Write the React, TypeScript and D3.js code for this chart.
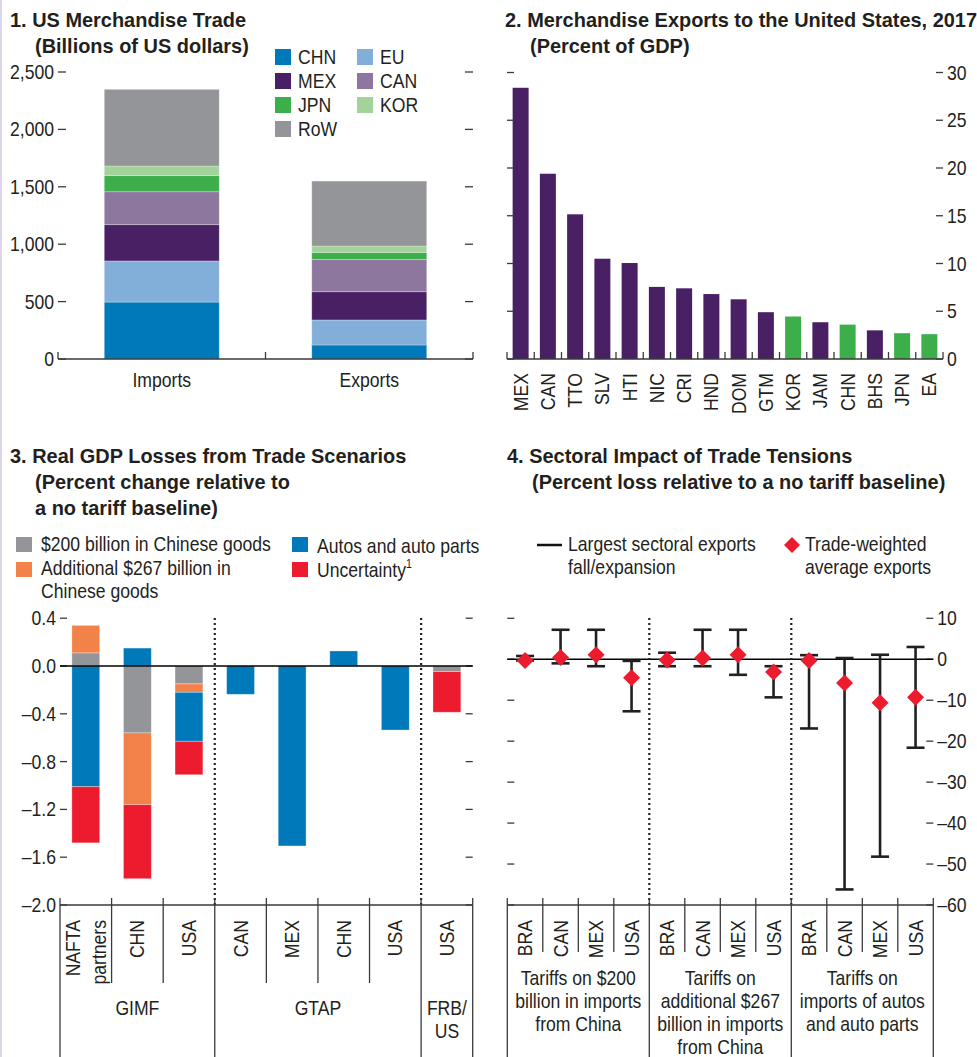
import React from "react";
import * as d3 from "d3";

const FONT = "'Liberation Sans', Arial, sans-serif";
const INK = "#231f20";
const AX = "#3a3a3a";

// ---------- Panel 1 data ----------
const p1Bars = ["Imports", "Exports"];
const p1Regions = ["CHN", "EU", "MEX", "CAN", "JPN", "KOR", "RoW"];
const p1Imports = [496, 358, 316, 287, 140, 84, 668];
const p1Exports = [122, 218, 246, 282, 61, 55, 566];
const p1Colors = ["#0079ba", "#82afd9", "#482063", "#8e779e", "#3cae4a", "#a3d39b", "#939598"];
const p1Ticks = [0, 500, 1000, 1500, 2000, 2500];

// ---------- Panel 2 data ----------
const p2Countries = ["MEX", "CAN", "TTO", "SLV", "HTI", "NIC", "CRI", "HND", "DOM", "GTM", "KOR", "JAM", "CHN", "BHS", "JPN", "EA"];
const p2Values = [28.4, 19.4, 15.15, 10.5, 10.05, 7.55, 7.4, 6.8, 6.25, 4.9, 4.45, 3.85, 3.6, 3.0, 2.7, 2.6];
const p2Green = ["KOR", "CHN", "JPN", "EA"];
const p2Ticks = [0, 5, 10, 15, 20, 25, 30];

// ---------- Panel 3 data ----------
const p3Ids = ["gimf-nafta", "gimf-chn", "gimf-usa", "gtap-can", "gtap-mex", "gtap-chn", "gtap-usa", "frb-usa"];
const p3Labels = [["NAFTA", "partners"], ["CHN"], ["USA"], ["CAN"], ["MEX"], ["CHN"], ["USA"], ["USA"]];
const p3Groups = [["GIMF"], ["GTAP"], ["FRB/", "US"]];
const p3GroupSizes = [3, 4, 1];
const p3Series = ["s200", "s267", "autos", "unc"];
const p3Colors = ["#939598", "#f3814a", "#0079ba", "#ec1c2e"];
const p3S200 = [0.11, -0.56, -0.15, 0, 0, 0, 0, -0.047];
const p3S267 = [0.23, -0.6, -0.07, 0, 0, 0, 0, 0];
const p3Autos = [-1.01, 0.15, -0.41, -0.237, -1.506, 0.126, -0.536, 0];
const p3Unc = [-0.47, -0.62, -0.28, 0, 0, 0, 0, -0.34];
const p3Ticks = [0.4, 0, -0.4, -0.8, -1.2, -1.6, -2.0];

// ---------- Panel 4 data ----------
const p4Ids = ["a-BRA", "a-CAN", "a-MEX", "a-USA", "b-BRA", "b-CAN", "b-MEX", "b-USA", "c-BRA", "c-CAN", "c-MEX", "c-USA"];
const p4Labels = ["BRA", "CAN", "MEX", "USA", "BRA", "CAN", "MEX", "USA", "BRA", "CAN", "MEX", "USA"];
const p4High = [0.8, 7.2, 7.2, -0.4, 1.6, 7.2, 7.2, -1.7, 1.0, 0.3, 1.1, 3.0];
const p4Low = [-0.3, -1.0, -1.7, -12.7, -1.7, -1.7, -3.8, -9.3, -16.9, -56.2, -48.2, -21.6];
const p4Avg = [-0.3, 0.4, 1.1, -4.5, -0.2, 0.3, 1.1, -3.1, -0.3, -5.8, -10.6, -9.3];
const p4Groups = [
  ["Tariffs on $200", "billion in imports", "from China"],
  ["Tariffs on", "additional $267", "billion in imports", "from China"],
  ["Tariffs on", "imports of autos", "and auto parts"],
];
const p4Ticks = [10, 0, -10, -20, -30, -40, -50, -60];

const fmtNeg = (v: number, digits: number) => (v < 0 ? "\u2013" : "") + Math.abs(v).toFixed(digits);

// condensed text: regular sans squeezed horizontally
function T({ x = 0, y = 0, rot = 0, sx = 0.88, size = 20, bold = false, children, ...rest }: any) {
  return (
    <text transform={`translate(${x},${y})${rot ? ` rotate(${rot})` : ""} scale(${sx},1)`}
      fontFamily={FONT} fontSize={size} fontWeight={bold ? "bold" : "normal"} fill={INK} {...rest}>
      {children}
    </text>
  );
}
const TB = (props: any) => <T size={21} sx={0.95} bold {...props} />;

function Panel1() {
  const x = d3.scaleBand().domain(p1Bars).range([58, 473]);
  const y = d3.scaleLinear().domain([0, 2500]).range([359, 72]);
  const rows = p1Bars.map((b, i) => {
    const vals = i === 0 ? p1Imports : p1Exports;
    const o: any = { bar: b };
    p1Regions.forEach((r, j) => (o[r] = vals[j]));
    return o;
  });
  const series = d3.stack().keys(p1Regions)(rows);
  const bw = x.bandwidth() * 0.554;
  const [x0, x1] = x.range();
  return (
    <g>
      <TB x={10} y={27}>1. US Merchandise Trade</TB>
      <TB x={35} y={53}>(Billions of US dollars)</TB>
      {series.map((s, si) =>
        s.map((d: any, di) => (
          <rect key={si + "-" + di} x={x(p1Bars[di])! + (x.bandwidth() - bw) / 2} width={bw}
            y={y(d[1])} height={y(d[0]) - y(d[1])} fill={p1Colors[si]} stroke="#ffffff" strokeOpacity={0.35} strokeWidth={0.8} />
        ))
      )}
      {p1Ticks.map((t) => (
        <g key={t}>
          <line x1={x0} x2={x0 + 8} y1={y(t)} y2={y(t)} stroke={AX} strokeWidth={1.3} />
          <line x1={x1 - 8} x2={x1} y1={y(t)} y2={y(t)} stroke={AX} strokeWidth={1.3} />
          <T x={x0 - 4} y={y(t)} dy="0.35em" textAnchor="end">{d3.format(",")(t)}</T>
        </g>
      ))}
      <line x1={x0} x2={x1} y1={y(0)} y2={y(0)} stroke={AX} strokeWidth={1.4} />
      {[x0, x0 + x.step(), x1].map((bx, i) => (
        <line key={i} x1={bx} x2={bx} y1={y(0) - 7} y2={y(0)} stroke={AX} strokeWidth={1.3} />
      ))}
      {p1Bars.map((b) => (
        <T key={b} x={x(b)! + x.bandwidth() / 2} y={387} textAnchor="middle">{b}</T>
      ))}
      {p1Regions.map((r, i) => {
        const lx = 275 + (i % 2) * 82;
        const ly = 57 + Math.floor(i / 2) * 24;
        return (
          <g key={r}>
            <rect x={lx} y={ly - 8} width={16} height={16} fill={p1Colors[i]} />
            <T x={lx + 23} y={ly} dy="0.35em">{r}</T>
          </g>
        );
      })}
    </g>
  );
}

function Panel2() {
  const x = d3.scaleBand().domain(p2Countries).range([507, 943]);
  const y = d3.scaleLinear().domain([0, 30]).range([359, 72.5]);
  const bw = x.bandwidth() * 0.587;
  const [x0, x1] = x.range();
  return (
    <g>
      <TB x={505} y={27}>2. Merchandise Exports to the United States, 2017</TB>
      <TB x={530} y={53}>(Percent of GDP)</TB>
      {p2Countries.map((c, i) => (
        <rect key={c} x={x(c)! + (x.bandwidth() - bw) / 2} width={bw} y={y(p2Values[i])} height={y(0) - y(p2Values[i])}
          fill={p2Green.includes(c) ? "#3cae4a" : "#482063"} />
      ))}
      {p2Ticks.map((t) => (
        <g key={t}>
          <line x1={x0} x2={x0 + 7} y1={y(t)} y2={y(t)} stroke={AX} strokeWidth={1.3} />
          <line x1={x1 - 7} x2={x1} y1={y(t)} y2={y(t)} stroke={AX} strokeWidth={1.3} />
          <T x={x1 + 4} y={y(t)} dy="0.35em">{t}</T>
        </g>
      ))}
      <line x1={x0} x2={x1} y1={y(0)} y2={y(0)} stroke={AX} strokeWidth={1.4} />
      {d3.range(p2Countries.length + 1).map((i) => (
        <line key={i} x1={x0 + i * x.step()} x2={x0 + i * x.step()} y1={y(0) - 7} y2={y(0)} stroke={AX} strokeWidth={1.3} />
      ))}
      {p2Countries.map((c) => (
        <T key={c} x={x(c)! + x.bandwidth() / 2} y={373} rot={-90} textAnchor="end" dy="0.35em">{c}</T>
      ))}
    </g>
  );
}

function Panel3() {
  const x = d3.scaleBand().domain(p3Ids).range([60, 472.7]);
  const y = d3.scaleLinear().domain([-2, 0.4]).range([905, 618.2]);
  const rows = p3Ids.map((id, i) => ({ id, s200: p3S200[i], s267: p3S267[i], autos: p3Autos[i], unc: p3Unc[i] }));
  const series = d3.stack<any>().keys(p3Series).offset(d3.stackOffsetDiverging)(rows);
  const bw = x.bandwidth() * 0.54;
  const [x0, x1] = x.range();
  const step = x.step();
  let acc = 0;
  const groupBounds = p3GroupSizes.map((n) => {
    const a = acc;
    acc += n;
    return [a, acc];
  });
  const majors = [0, 3, 7, 8];
  return (
    <g>
      <TB x={10} y={463}>3. Real GDP Losses from Trade Scenarios</TB>
      <TB x={35} y={489}>(Percent change relative to</TB>
      <TB x={35} y={515}>a no tariff baseline)</TB>
      <rect x={16} y={537} width={16} height={15} fill={p3Colors[0]} />
      <T x={41} y={551}>$200 billion in Chinese goods</T>
      <rect x={16} y={562} width={16} height={15} fill={p3Colors[1]} />
      <T x={41} y={575}>Additional $267 billion in</T>
      <T x={41} y={598}>Chinese goods</T>
      <rect x={292} y={537} width={16} height={15} fill={p3Colors[2]} />
      <T x={317} y={553}>Autos and auto parts</T>
      <rect x={292} y={562} width={16} height={15} fill={p3Colors[3]} />
      <T x={317} y={577}>Uncertainty<tspan fontSize={12} dy={-9}>1</tspan></T>
      {series.map((s, si) =>
        s.map((d: any, di) =>
          d[1] !== d[0] ? (
            <rect key={si + "-" + di} x={x(p3Ids[di])! + (x.bandwidth() - bw) / 2} width={bw}
              y={y(Math.max(d[0], d[1]))} height={Math.abs(y(d[0]) - y(d[1]))} fill={p3Colors[si]}
              stroke="#ffffff" strokeOpacity={0.4} strokeWidth={0.8} />
          ) : null
        )
      )}
      {p3Ticks.map((t) => (
        <g key={t}>
          <line x1={x0} x2={x0 + 7} y1={y(t)} y2={y(t)} stroke={AX} strokeWidth={1.3} />
          <line x1={x1 - 7} x2={x1} y1={y(t)} y2={y(t)} stroke={AX} strokeWidth={1.3} />
          <T x={x0 - 4} y={y(t)} dy="0.35em" textAnchor="end">{fmtNeg(t, 1)}</T>
        </g>
      ))}
      <line x1={x0} x2={x1} y1={y(0)} y2={y(0)} stroke="#000" strokeWidth={1.3} />
      {[3, 7].map((i) => (
        <line key={i} x1={x0 + i * step} x2={x0 + i * step} y1={618} y2={y(-2)} stroke="#222" strokeWidth={2.2} strokeDasharray="2 3" />
      ))}
      <line x1={x0} x2={x1} y1={y(-2)} y2={y(-2)} stroke={AX} strokeWidth={1.4} />
      {d3.range(p3Ids.length + 1).map((i) => (
        <line key={i} x1={x0 + i * step} x2={x0 + i * step} y1={y(-2) - 7} y2={majors.includes(i) ? 1057 : 983} stroke={AX} strokeWidth={1.3} />
      ))}
      {p3Ids.map((id, i) => {
        const cx = x(id)! + x.bandwidth() / 2;
        const lines = p3Labels[i];
        return lines.map((l, li) => (
          <T key={id + li} x={cx + (li - (lines.length - 1) / 2) * 26} y={920} rot={-90} textAnchor="end" dy="0.35em">{l}</T>
        ));
      })}
      {groupBounds.map(([a, b], gi) => {
        const cx = x0 + ((a + b) / 2) * step;
        return p3Groups[gi].map((p, pi) => (
          <T key={gi + "-" + pi} x={cx} y={1015 + pi * 23} textAnchor="middle">{p}</T>
        ));
      })}
    </g>
  );
}

function Panel4() {
  const x = d3.scaleBand().domain(p4Ids).range([507.3, 933.3]);
  const y = d3.scaleLinear().domain([-60, 10]).range([905, 618.3]);
  const [x0, x1] = x.range();
  const step = x.step();
  const cap = 9;
  const majors = [0, 4, 8, 12];
  const diamond = (cx: number, cy: number, r: number) => `M${cx},${cy - r}L${cx + r},${cy}L${cx},${cy + r}L${cx - r},${cy}Z`;
  return (
    <g>
      <TB x={507} y={463}>4. Sectoral Impact of Trade Tensions</TB>
      <TB x={532} y={489}>(Percent loss relative to a no tariff baseline)</TB>
      <line x1={537} x2={562} y1={545} y2={545} stroke="#111" strokeWidth={2.5} />
      <T x={568} y={551}>Largest sectoral exports</T>
      <T x={568} y={574}>fall/expansion</T>
      <path d={diamond(792, 545, 8)} fill="#ec1c2e" />
      <T x={805} y={551}>Trade-weighted</T>
      <T x={805} y={574}>average exports</T>
      {p4Ticks.map((t) => (
        <g key={t}>
          <line x1={x0} x2={x0 + 7} y1={y(t)} y2={y(t)} stroke={AX} strokeWidth={1.3} />
          <line x1={x1 - 7} x2={x1} y1={y(t)} y2={y(t)} stroke={AX} strokeWidth={1.3} />
          <T x={x1 + 4} y={y(t)} dy="0.35em">{fmtNeg(t, 0)}</T>
        </g>
      ))}
      <line x1={x0} x2={x1} y1={y(0)} y2={y(0)} stroke="#000" strokeWidth={1.3} />
      {[4, 8].map((i) => (
        <line key={i} x1={x0 + i * step} x2={x0 + i * step} y1={618} y2={y(-60)} stroke="#222" strokeWidth={2.2} strokeDasharray="2 3" />
      ))}
      {p4Ids.map((id, i) => {
        const cx = x(id)! + x.bandwidth() / 2;
        return (
          <g key={id}>
            <line x1={cx} x2={cx} y1={y(p4High[i])} y2={y(p4Low[i])} stroke="#231f20" strokeWidth={2.6} />
            <line x1={cx - cap} x2={cx + cap} y1={y(p4High[i])} y2={y(p4High[i])} stroke="#231f20" strokeWidth={2.6} />
            <line x1={cx - cap} x2={cx + cap} y1={y(p4Low[i])} y2={y(p4Low[i])} stroke="#231f20" strokeWidth={2.6} />
            <path d={diamond(cx, y(p4Avg[i]), 8.5)} fill="#ec1c2e" />
          </g>
        );
      })}
      <line x1={x0} x2={x1} y1={y(-60)} y2={y(-60)} stroke={AX} strokeWidth={1.4} />
      {d3.range(p4Ids.length + 1).map((i) => (
        <line key={i} x1={x0 + i * step} x2={x0 + i * step} y1={y(-60) - 7} y2={majors.includes(i) ? 1057 : 952} stroke={AX} strokeWidth={1.3} />
      ))}
      {p4Ids.map((id, i) => (
        <T key={id} x={x(id)! + x.bandwidth() / 2} y={920} rot={-90} textAnchor="end" dy="0.35em">{p4Labels[i]}</T>
      ))}
      {p4Groups.map((lines, gi) => {
        const cx = x0 + (gi * 4 + 2) * step;
        return lines.map((l, li) => (
          <T key={gi + "-" + li} x={cx} y={985 + li * 23} textAnchor="middle">{l}</T>
        ));
      })}
    </g>
  );
}

export default function App() {
  return (
    <svg width={977} height={1057} style={{ position: "absolute", left: 0, top: 0, background: "#fff" }}>
      <rect x={0} y={0} width={977} height={1057} fill="#fff" />
      <line x1={1} x2={1} y1={0} y2={1057} stroke="#dcd6e8" strokeWidth={2} />
      <Panel1 />
      <Panel2 />
      <Panel3 />
      <Panel4 />
    </svg>
  );
}
